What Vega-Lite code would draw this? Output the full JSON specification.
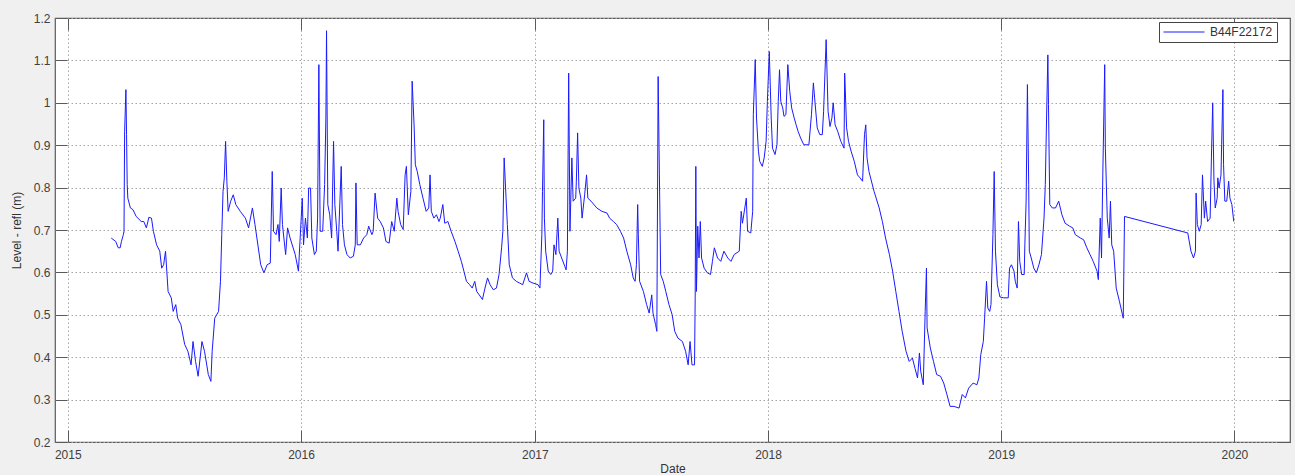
{
  "$schema": "https://vega.github.io/schema/vega-lite/v6.json",
  "width": 1235,
  "height": 424,
  "autosize": {"type": "none"},
  "padding": {"left": 55, "top": 18, "right": 5, "bottom": 33},
  "background": "#f0f0f0",
  "config": {
    "view": {"fill": "white", "stroke": "#5a5a5a", "strokeWidth": 1.2},
    "font": "Liberation Sans",
    "axis": {
      "domain": false,
      "labelFont": "Liberation Sans",
      "labelFontSize": 12,
      "labelColor": "#404040",
      "titleFont": "Liberation Sans",
      "titleFontSize": 12,
      "titleFontWeight": "normal",
      "titleColor": "#333333",
      "tickColor": "#5a5a5a",
      "tickSize": -12,
      "tickWidth": 1,
      "gridColor": "#a8a8a8",
      "gridDash": [1.5, 2.5],
      "gridWidth": 1
    },
    "legend": {
      "orient": "none",
      "legendX": 1104,
      "legendY": 4,
      "symbolType": "stroke",
      "symbolSize": 1681,
      "symbolStrokeWidth": 1,
      "labelFont": "Liberation Sans",
      "labelFontSize": 12,
      "labelColor": "#333333",
      "labelOffset": 5,
      "strokeColor": "#444444",
      "fillColor": "white",
      "padding": 4,
      "clipHeight": 12
    }
  },
  "data": {"values": [
    {"date": "2015-03-10", "level": 0.681}, {"date": "2015-03-17", "level": 0.673}, {"date": "2015-03-21", "level": 0.658}, {"date": "2015-03-24", "level": 0.658}, {"date": "2015-03-26", "level": 0.673}, {"date": "2015-03-29", "level": 0.689}, {"date": "2015-03-30", "level": 0.697}, {"date": "2015-03-31", "level": 0.933}, {"date": "2015-04-02", "level": 1.031}, {"date": "2015-04-03", "level": 0.925}, {"date": "2015-04-04", "level": 0.807}, {"date": "2015-04-05", "level": 0.775}, {"date": "2015-04-09", "level": 0.752}, {"date": "2015-04-13", "level": 0.748}, {"date": "2015-04-18", "level": 0.732}, {"date": "2015-04-26", "level": 0.72}, {"date": "2015-04-30", "level": 0.72}, {"date": "2015-05-04", "level": 0.705}, {"date": "2015-05-08", "level": 0.73}, {"date": "2015-05-12", "level": 0.728}, {"date": "2015-05-15", "level": 0.697}, {"date": "2015-05-20", "level": 0.665}, {"date": "2015-05-25", "level": 0.65}, {"date": "2015-05-28", "level": 0.61}, {"date": "2015-05-31", "level": 0.618}, {"date": "2015-06-03", "level": 0.65}, {"date": "2015-06-05", "level": 0.603}, {"date": "2015-06-07", "level": 0.555}, {"date": "2015-06-12", "level": 0.54}, {"date": "2015-06-15", "level": 0.508}, {"date": "2015-06-19", "level": 0.524}, {"date": "2015-06-22", "level": 0.492}, {"date": "2015-06-27", "level": 0.477}, {"date": "2015-07-03", "level": 0.43}, {"date": "2015-07-08", "level": 0.414}, {"date": "2015-07-13", "level": 0.382}, {"date": "2015-07-16", "level": 0.437}, {"date": "2015-07-20", "level": 0.39}, {"date": "2015-07-24", "level": 0.355}, {"date": "2015-07-30", "level": 0.437}, {"date": "2015-08-03", "level": 0.414}, {"date": "2015-08-09", "level": 0.359}, {"date": "2015-08-13", "level": 0.343}, {"date": "2015-08-15", "level": 0.414}, {"date": "2015-08-19", "level": 0.492}, {"date": "2015-08-25", "level": 0.508}, {"date": "2015-08-28", "level": 0.579}, {"date": "2015-08-30", "level": 0.689}, {"date": "2015-09-01", "level": 0.791}, {"date": "2015-09-03", "level": 0.823}, {"date": "2015-09-05", "level": 0.909}, {"date": "2015-09-07", "level": 0.815}, {"date": "2015-09-09", "level": 0.744}, {"date": "2015-09-13", "level": 0.768}, {"date": "2015-09-17", "level": 0.783}, {"date": "2015-09-21", "level": 0.76}, {"date": "2015-09-28", "level": 0.744}, {"date": "2015-10-06", "level": 0.728}, {"date": "2015-10-11", "level": 0.705}, {"date": "2015-10-17", "level": 0.752}, {"date": "2015-10-21", "level": 0.713}, {"date": "2015-10-24", "level": 0.681}, {"date": "2015-10-30", "level": 0.618}, {"date": "2015-11-04", "level": 0.599}, {"date": "2015-11-09", "level": 0.618}, {"date": "2015-11-14", "level": 0.622}, {"date": "2015-11-17", "level": 0.838}, {"date": "2015-11-18", "level": 0.775}, {"date": "2015-11-19", "level": 0.697}, {"date": "2015-11-23", "level": 0.689}, {"date": "2015-11-26", "level": 0.713}, {"date": "2015-11-28", "level": 0.673}, {"date": "2015-12-01", "level": 0.799}, {"date": "2015-12-03", "level": 0.713}, {"date": "2015-12-08", "level": 0.642}, {"date": "2015-12-11", "level": 0.705}, {"date": "2015-12-15", "level": 0.681}, {"date": "2015-12-23", "level": 0.642}, {"date": "2015-12-28", "level": 0.603},
    {"date": "2016-01-03", "level": 0.775}, {"date": "2016-01-05", "level": 0.665}, {"date": "2016-01-08", "level": 0.728}, {"date": "2016-01-11", "level": 0.681}, {"date": "2016-01-13", "level": 0.799}, {"date": "2016-01-16", "level": 0.799}, {"date": "2016-01-18", "level": 0.681}, {"date": "2016-01-22", "level": 0.642}, {"date": "2016-01-25", "level": 0.65}, {"date": "2016-01-27", "level": 0.728}, {"date": "2016-01-29", "level": 1.09}, {"date": "2016-01-31", "level": 0.697}, {"date": "2016-02-04", "level": 0.697}, {"date": "2016-02-07", "level": 0.807}, {"date": "2016-02-09", "level": 0.964}, {"date": "2016-02-10", "level": 1.17}, {"date": "2016-02-12", "level": 0.76}, {"date": "2016-02-15", "level": 0.736}, {"date": "2016-02-18", "level": 0.681}, {"date": "2016-02-21", "level": 0.909}, {"date": "2016-02-23", "level": 0.76}, {"date": "2016-02-26", "level": 0.697}, {"date": "2016-02-28", "level": 0.65}, {"date": "2016-03-04", "level": 0.85}, {"date": "2016-03-06", "level": 0.713}, {"date": "2016-03-09", "level": 0.665}, {"date": "2016-03-13", "level": 0.642}, {"date": "2016-03-18", "level": 0.634}, {"date": "2016-03-23", "level": 0.638}, {"date": "2016-03-26", "level": 0.665}, {"date": "2016-03-27", "level": 0.811}, {"date": "2016-03-29", "level": 0.665}, {"date": "2016-04-03", "level": 0.665}, {"date": "2016-04-08", "level": 0.681}, {"date": "2016-04-13", "level": 0.689}, {"date": "2016-04-16", "level": 0.709}, {"date": "2016-04-21", "level": 0.689}, {"date": "2016-04-23", "level": 0.697}, {"date": "2016-04-26", "level": 0.787}, {"date": "2016-04-30", "level": 0.728}, {"date": "2016-05-04", "level": 0.72}, {"date": "2016-05-09", "level": 0.705}, {"date": "2016-05-13", "level": 0.673}, {"date": "2016-05-18", "level": 0.669}, {"date": "2016-05-22", "level": 0.72}, {"date": "2016-05-26", "level": 0.697}, {"date": "2016-05-30", "level": 0.775}, {"date": "2016-06-01", "level": 0.744}, {"date": "2016-06-05", "level": 0.713}, {"date": "2016-06-09", "level": 0.701}, {"date": "2016-06-12", "level": 0.83}, {"date": "2016-06-14", "level": 0.85}, {"date": "2016-06-17", "level": 0.736}, {"date": "2016-06-21", "level": 0.791}, {"date": "2016-06-23", "level": 1.051}, {"date": "2016-06-26", "level": 0.948}, {"date": "2016-06-28", "level": 0.854}, {"date": "2016-07-01", "level": 0.838}, {"date": "2016-07-05", "level": 0.807}, {"date": "2016-07-10", "level": 0.775}, {"date": "2016-07-15", "level": 0.744}, {"date": "2016-07-19", "level": 0.752}, {"date": "2016-07-21", "level": 0.83}, {"date": "2016-07-23", "level": 0.744}, {"date": "2016-07-27", "level": 0.728}, {"date": "2016-07-31", "level": 0.736}, {"date": "2016-08-04", "level": 0.72}, {"date": "2016-08-06", "level": 0.728}, {"date": "2016-08-10", "level": 0.76}, {"date": "2016-08-13", "level": 0.716}, {"date": "2016-08-18", "level": 0.72}, {"date": "2016-08-23", "level": 0.697}, {"date": "2016-08-29", "level": 0.673}, {"date": "2016-09-03", "level": 0.65}, {"date": "2016-09-08", "level": 0.626}, {"date": "2016-09-12", "level": 0.603}, {"date": "2016-09-16", "level": 0.579}, {"date": "2016-09-21", "level": 0.571}, {"date": "2016-09-25", "level": 0.563}, {"date": "2016-09-29", "level": 0.579}, {"date": "2016-10-02", "level": 0.555}, {"date": "2016-10-06", "level": 0.547}, {"date": "2016-10-11", "level": 0.536}, {"date": "2016-10-15", "level": 0.563}, {"date": "2016-10-19", "level": 0.587}, {"date": "2016-10-23", "level": 0.571}, {"date": "2016-10-28", "level": 0.559}, {"date": "2016-11-02", "level": 0.563}, {"date": "2016-11-06", "level": 0.595}, {"date": "2016-11-10", "level": 0.658}, {"date": "2016-11-12", "level": 0.697}, {"date": "2016-11-14", "level": 0.87}, {"date": "2016-11-17", "level": 0.775}, {"date": "2016-11-19", "level": 0.713}, {"date": "2016-11-22", "level": 0.618}, {"date": "2016-11-27", "level": 0.587}, {"date": "2016-12-03", "level": 0.579}, {"date": "2016-12-08", "level": 0.575}, {"date": "2016-12-13", "level": 0.571}, {"date": "2016-12-19", "level": 0.599}, {"date": "2016-12-23", "level": 0.579}, {"date": "2016-12-29", "level": 0.575},
    {"date": "2017-01-06", "level": 0.571}, {"date": "2017-01-09", "level": 0.563}, {"date": "2017-01-12", "level": 0.689}, {"date": "2017-01-13", "level": 0.791}, {"date": "2017-01-15", "level": 0.96}, {"date": "2017-01-16", "level": 0.728}, {"date": "2017-01-18", "level": 0.65}, {"date": "2017-01-22", "level": 0.603}, {"date": "2017-01-26", "level": 0.595}, {"date": "2017-01-29", "level": 0.603}, {"date": "2017-01-31", "level": 0.665}, {"date": "2017-02-03", "level": 0.642}, {"date": "2017-02-06", "level": 0.728}, {"date": "2017-02-08", "level": 0.65}, {"date": "2017-02-12", "level": 0.634}, {"date": "2017-02-17", "level": 0.614}, {"date": "2017-02-19", "level": 0.606}, {"date": "2017-02-21", "level": 0.65}, {"date": "2017-02-23", "level": 1.07}, {"date": "2017-02-25", "level": 0.697}, {"date": "2017-02-28", "level": 0.87}, {"date": "2017-03-02", "level": 0.768}, {"date": "2017-03-06", "level": 0.775}, {"date": "2017-03-07", "level": 0.815}, {"date": "2017-03-09", "level": 0.929}, {"date": "2017-03-11", "level": 0.799}, {"date": "2017-03-14", "level": 0.775}, {"date": "2017-03-16", "level": 0.728}, {"date": "2017-03-20", "level": 0.783}, {"date": "2017-03-23", "level": 0.83}, {"date": "2017-03-25", "level": 0.775}, {"date": "2017-03-30", "level": 0.768}, {"date": "2017-04-08", "level": 0.752}, {"date": "2017-04-16", "level": 0.744}, {"date": "2017-04-24", "level": 0.74}, {"date": "2017-04-28", "level": 0.728}, {"date": "2017-05-04", "level": 0.72}, {"date": "2017-05-09", "level": 0.713}, {"date": "2017-05-15", "level": 0.697}, {"date": "2017-05-20", "level": 0.681}, {"date": "2017-05-25", "level": 0.65}, {"date": "2017-05-31", "level": 0.618}, {"date": "2017-06-04", "level": 0.587}, {"date": "2017-06-07", "level": 0.579}, {"date": "2017-06-09", "level": 0.618}, {"date": "2017-06-11", "level": 0.76}, {"date": "2017-06-12", "level": 0.689}, {"date": "2017-06-14", "level": 0.579}, {"date": "2017-06-20", "level": 0.555}, {"date": "2017-06-25", "level": 0.524}, {"date": "2017-06-29", "level": 0.504}, {"date": "2017-07-03", "level": 0.547}, {"date": "2017-07-05", "level": 0.504}, {"date": "2017-07-09", "level": 0.477}, {"date": "2017-07-11", "level": 0.461}, {"date": "2017-07-13", "level": 1.062}, {"date": "2017-07-15", "level": 0.83}, {"date": "2017-07-17", "level": 0.595}, {"date": "2017-07-21", "level": 0.579}, {"date": "2017-07-25", "level": 0.555}, {"date": "2017-07-30", "level": 0.524}, {"date": "2017-08-04", "level": 0.5}, {"date": "2017-08-08", "level": 0.461}, {"date": "2017-08-13", "level": 0.445}, {"date": "2017-08-20", "level": 0.437}, {"date": "2017-08-25", "level": 0.414}, {"date": "2017-08-29", "level": 0.382}, {"date": "2017-09-01", "level": 0.437}, {"date": "2017-09-04", "level": 0.382}, {"date": "2017-09-08", "level": 0.382}, {"date": "2017-09-09", "level": 0.54}, {"date": "2017-09-10", "level": 0.85}, {"date": "2017-09-11", "level": 0.555}, {"date": "2017-09-13", "level": 0.709}, {"date": "2017-09-15", "level": 0.634}, {"date": "2017-09-17", "level": 0.72}, {"date": "2017-09-19", "level": 0.634}, {"date": "2017-09-23", "level": 0.61}, {"date": "2017-09-28", "level": 0.599}, {"date": "2017-10-03", "level": 0.595}, {"date": "2017-10-06", "level": 0.626}, {"date": "2017-10-09", "level": 0.658}, {"date": "2017-10-14", "level": 0.634}, {"date": "2017-10-19", "level": 0.626}, {"date": "2017-10-24", "level": 0.65}, {"date": "2017-10-30", "level": 0.634}, {"date": "2017-11-04", "level": 0.626}, {"date": "2017-11-09", "level": 0.642}, {"date": "2017-11-17", "level": 0.65}, {"date": "2017-11-20", "level": 0.744}, {"date": "2017-11-22", "level": 0.716}, {"date": "2017-11-28", "level": 0.775}, {"date": "2017-11-30", "level": 0.697}, {"date": "2017-12-05", "level": 0.693}, {"date": "2017-12-08", "level": 0.744}, {"date": "2017-12-09", "level": 0.972}, {"date": "2017-12-12", "level": 1.102}, {"date": "2017-12-14", "level": 0.964}, {"date": "2017-12-17", "level": 0.886}, {"date": "2017-12-19", "level": 0.862}, {"date": "2017-12-23", "level": 0.85}, {"date": "2017-12-26", "level": 0.87}, {"date": "2017-12-29", "level": 0.909}, {"date": "2017-12-31", "level": 1.003},
    {"date": "2018-01-03", "level": 1.121}, {"date": "2018-01-06", "level": 0.964}, {"date": "2018-01-08", "level": 0.893}, {"date": "2018-01-12", "level": 0.878}, {"date": "2018-01-15", "level": 0.901}, {"date": "2018-01-17", "level": 1.003}, {"date": "2018-01-19", "level": 1.078}, {"date": "2018-01-21", "level": 1.003}, {"date": "2018-01-24", "level": 0.988}, {"date": "2018-01-26", "level": 0.968}, {"date": "2018-01-29", "level": 0.972}, {"date": "2018-02-01", "level": 1.09}, {"date": "2018-02-04", "level": 1.027}, {"date": "2018-02-07", "level": 0.988}, {"date": "2018-02-11", "level": 0.964}, {"date": "2018-02-14", "level": 0.948}, {"date": "2018-02-17", "level": 0.933}, {"date": "2018-02-21", "level": 0.917}, {"date": "2018-02-26", "level": 0.901}, {"date": "2018-03-06", "level": 0.901}, {"date": "2018-03-10", "level": 0.972}, {"date": "2018-03-13", "level": 1.047}, {"date": "2018-03-15", "level": 1.011}, {"date": "2018-03-19", "level": 0.941}, {"date": "2018-03-23", "level": 0.925}, {"date": "2018-03-27", "level": 0.925}, {"date": "2018-03-29", "level": 0.98}, {"date": "2018-04-02", "level": 1.149}, {"date": "2018-04-05", "level": 0.98}, {"date": "2018-04-08", "level": 0.944}, {"date": "2018-04-11", "level": 0.964}, {"date": "2018-04-13", "level": 1.0}, {"date": "2018-04-16", "level": 0.948}, {"date": "2018-04-20", "level": 0.933}, {"date": "2018-04-25", "level": 0.909}, {"date": "2018-04-30", "level": 0.893}, {"date": "2018-05-01", "level": 1.07}, {"date": "2018-05-04", "level": 0.941}, {"date": "2018-05-07", "level": 0.909}, {"date": "2018-05-11", "level": 0.886}, {"date": "2018-05-16", "level": 0.862}, {"date": "2018-05-21", "level": 0.83}, {"date": "2018-05-25", "level": 0.823}, {"date": "2018-05-29", "level": 0.815}, {"date": "2018-06-01", "level": 0.925}, {"date": "2018-06-03", "level": 0.948}, {"date": "2018-06-05", "level": 0.87}, {"date": "2018-06-08", "level": 0.838}, {"date": "2018-06-16", "level": 0.791}, {"date": "2018-06-24", "level": 0.752}, {"date": "2018-06-29", "level": 0.72}, {"date": "2018-07-04", "level": 0.681}, {"date": "2018-07-10", "level": 0.642}, {"date": "2018-07-15", "level": 0.603}, {"date": "2018-07-20", "level": 0.555}, {"date": "2018-07-25", "level": 0.508}, {"date": "2018-07-30", "level": 0.461}, {"date": "2018-08-05", "level": 0.414}, {"date": "2018-08-10", "level": 0.39}, {"date": "2018-08-15", "level": 0.398}, {"date": "2018-08-19", "level": 0.374}, {"date": "2018-08-23", "level": 0.351}, {"date": "2018-08-26", "level": 0.41}, {"date": "2018-08-28", "level": 0.367}, {"date": "2018-09-01", "level": 0.335}, {"date": "2018-09-04", "level": 0.508}, {"date": "2018-09-06", "level": 0.61}, {"date": "2018-09-07", "level": 0.469}, {"date": "2018-09-12", "level": 0.422}, {"date": "2018-09-17", "level": 0.39}, {"date": "2018-09-22", "level": 0.359}, {"date": "2018-09-28", "level": 0.355}, {"date": "2018-10-03", "level": 0.339}, {"date": "2018-10-08", "level": 0.312}, {"date": "2018-10-13", "level": 0.284}, {"date": "2018-10-19", "level": 0.284}, {"date": "2018-10-27", "level": 0.28}, {"date": "2018-11-01", "level": 0.312}, {"date": "2018-11-06", "level": 0.304}, {"date": "2018-11-11", "level": 0.327}, {"date": "2018-11-18", "level": 0.339}, {"date": "2018-11-24", "level": 0.335}, {"date": "2018-11-27", "level": 0.351}, {"date": "2018-11-30", "level": 0.406}, {"date": "2018-12-04", "level": 0.437}, {"date": "2018-12-06", "level": 0.492}, {"date": "2018-12-09", "level": 0.579}, {"date": "2018-12-11", "level": 0.516}, {"date": "2018-12-14", "level": 0.508}, {"date": "2018-12-16", "level": 0.524}, {"date": "2018-12-19", "level": 0.689}, {"date": "2018-12-21", "level": 0.838}, {"date": "2018-12-23", "level": 0.65}, {"date": "2018-12-26", "level": 0.571}, {"date": "2018-12-30", "level": 0.542},
    {"date": "2019-01-05", "level": 0.54}, {"date": "2019-01-12", "level": 0.54}, {"date": "2019-01-14", "level": 0.61}, {"date": "2019-01-17", "level": 0.618}, {"date": "2019-01-21", "level": 0.603}, {"date": "2019-01-23", "level": 0.579}, {"date": "2019-01-26", "level": 0.563}, {"date": "2019-01-28", "level": 0.72}, {"date": "2019-01-30", "level": 0.626}, {"date": "2019-02-02", "level": 0.595}, {"date": "2019-02-06", "level": 0.595}, {"date": "2019-02-07", "level": 0.665}, {"date": "2019-02-09", "level": 0.768}, {"date": "2019-02-11", "level": 1.043}, {"date": "2019-02-13", "level": 0.807}, {"date": "2019-02-14", "level": 0.65}, {"date": "2019-02-17", "level": 0.634}, {"date": "2019-02-21", "level": 0.61}, {"date": "2019-02-25", "level": 0.599}, {"date": "2019-03-01", "level": 0.618}, {"date": "2019-03-05", "level": 0.642}, {"date": "2019-03-09", "level": 0.728}, {"date": "2019-03-11", "level": 0.807}, {"date": "2019-03-13", "level": 0.964}, {"date": "2019-03-15", "level": 1.113}, {"date": "2019-03-16", "level": 0.996}, {"date": "2019-03-18", "level": 0.76}, {"date": "2019-03-22", "level": 0.752}, {"date": "2019-03-27", "level": 0.752}, {"date": "2019-04-01", "level": 0.768}, {"date": "2019-04-06", "level": 0.736}, {"date": "2019-04-11", "level": 0.716}, {"date": "2019-04-18", "level": 0.709}, {"date": "2019-04-23", "level": 0.705}, {"date": "2019-04-27", "level": 0.689}, {"date": "2019-05-05", "level": 0.681}, {"date": "2019-05-10", "level": 0.677}, {"date": "2019-05-15", "level": 0.658}, {"date": "2019-05-20", "level": 0.642}, {"date": "2019-05-25", "level": 0.626}, {"date": "2019-05-31", "level": 0.603}, {"date": "2019-06-02", "level": 0.583}, {"date": "2019-06-05", "level": 0.728}, {"date": "2019-06-07", "level": 0.634}, {"date": "2019-06-09", "level": 0.83}, {"date": "2019-06-12", "level": 1.09}, {"date": "2019-06-13", "level": 0.893}, {"date": "2019-06-16", "level": 0.728}, {"date": "2019-06-19", "level": 0.681}, {"date": "2019-06-21", "level": 0.768}, {"date": "2019-06-23", "level": 0.665}, {"date": "2019-06-26", "level": 0.65}, {"date": "2019-06-30", "level": 0.563}, {"date": "2019-07-05", "level": 0.532}, {"date": "2019-07-11", "level": 0.492}, {"date": "2019-07-13", "level": 0.732}, {"date": "2019-10-20", "level": 0.693}, {"date": "2019-10-25", "level": 0.65}, {"date": "2019-10-29", "level": 0.634}, {"date": "2019-11-01", "level": 0.65}, {"date": "2019-11-02", "level": 0.787}, {"date": "2019-11-04", "level": 0.713}, {"date": "2019-11-07", "level": 0.697}, {"date": "2019-11-10", "level": 0.713}, {"date": "2019-11-12", "level": 0.83}, {"date": "2019-11-15", "level": 0.728}, {"date": "2019-11-17", "level": 0.768}, {"date": "2019-11-20", "level": 0.72}, {"date": "2019-11-24", "level": 0.728}, {"date": "2019-11-26", "level": 0.87}, {"date": "2019-11-28", "level": 1.0}, {"date": "2019-11-30", "level": 0.815}, {"date": "2019-12-02", "level": 0.752}, {"date": "2019-12-05", "level": 0.775}, {"date": "2019-12-06", "level": 0.823}, {"date": "2019-12-08", "level": 0.799}, {"date": "2019-12-11", "level": 0.83}, {"date": "2019-12-12", "level": 0.901}, {"date": "2019-12-14", "level": 1.031}, {"date": "2019-12-15", "level": 0.854}, {"date": "2019-12-17", "level": 0.768}, {"date": "2019-12-20", "level": 0.768}, {"date": "2019-12-23", "level": 0.815}, {"date": "2019-12-25", "level": 0.775}, {"date": "2019-12-28", "level": 0.76}, {"date": "2019-12-31", "level": 0.72}
  ]},
  "resolve": {"axis": {"x": "independent", "y": "independent"}},
  "layer": [
    {
      "mark": {"type": "line", "strokeWidth": 1, "interpolate": "linear"},
      "encoding": {
        "x": {
          "field": "date", "type": "temporal",
          "scale": {"type": "utc", "domain": [{"year": 2014, "month": 12, "date": 12, "utc": true}, {"year": 2020, "month": 3, "date": 28, "utc": true}]},
          "axis": {
            "orient": "bottom", "title": "Date", "format": "%Y", "formatType": "utc",
            "values": [{"year": 2015, "month": 1, "date": 1, "utc": true}, {"year": 2016, "month": 1, "date": 1, "utc": true}, {"year": 2017, "month": 1, "date": 1, "utc": true}, {"year": 2018, "month": 1, "date": 1, "utc": true}, {"year": 2019, "month": 1, "date": 1, "utc": true}, {"year": 2020, "month": 1, "date": 1, "utc": true}],
            "labelPadding": 19, "titlePadding": 3, "labelFlush": false, "labelOverlap": false, "grid": true
          }
        },
        "y": {
          "field": "level", "type": "quantitative",
          "scale": {"domain": [0.2, 1.2], "nice": false, "zero": false},
          "axis": {
            "orient": "left", "title": "Level - refl (m)", "format": "~g",
            "values": [0.2, 0.3, 0.4, 0.5, 0.6, 0.7, 0.8, 0.9, 1.0, 1.1, 1.2],
            "labelPadding": 17, "titlePadding": 10, "labelFlush": false, "labelOverlap": false, "grid": true
          }
        },
        "color": {
          "datum": "B44F22172",
          "type": "nominal",
          "scale": {"range": ["#1a1aff"]},
          "legend": {"title": null}
        }
      }
    },
    {
      "mark": {"type": "line", "opacity": 0},
      "encoding": {
        "x": {
          "field": "date", "type": "temporal",
          "axis": {
            "orient": "top", "title": null, "labels": false, "grid": false,
            "values": [{"year": 2015, "month": 1, "date": 1, "utc": true}, {"year": 2016, "month": 1, "date": 1, "utc": true}, {"year": 2017, "month": 1, "date": 1, "utc": true}, {"year": 2018, "month": 1, "date": 1, "utc": true}, {"year": 2019, "month": 1, "date": 1, "utc": true}, {"year": 2020, "month": 1, "date": 1, "utc": true}]
          }
        },
        "y": {
          "field": "level", "type": "quantitative",
          "axis": {
            "orient": "right", "title": null, "labels": false, "grid": false,
            "values": [0.2, 0.3, 0.4, 0.5, 0.6, 0.7, 0.8, 0.9, 1.0, 1.1, 1.2]
          }
        }
      }
    }
  ]
}
